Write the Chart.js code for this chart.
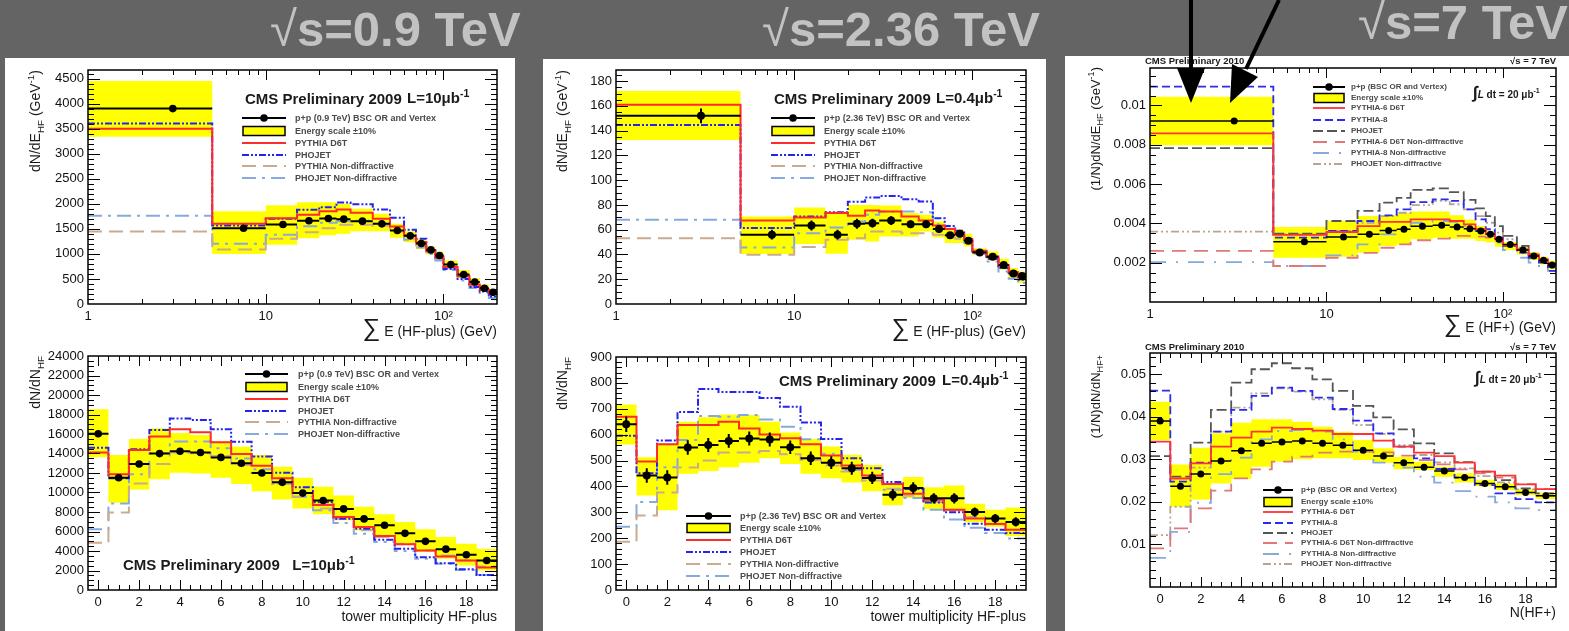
<!DOCTYPE html>
<html>
<head>
<meta charset="utf-8">
<title>CMS HF-plus energy and tower multiplicity</title>
<script src="https://cdn.jsdelivr.net/npm/chart.js@4.4.1/dist/chart.umd.min.js"></script>
<style>
  body { margin: 0; width: 1569px; height: 631px; overflow: hidden; position: relative; background: #646464; font-family: 'Liberation Sans', Arial, sans-serif; }
  .sheet { position: absolute; background: #fff; }
  .heading { position: absolute; color: #c2c2c2; font-size: 49px; font-weight: bold; white-space: nowrap; line-height: 49px; }
  .heading span { font-weight: normal; }
  .txt { position: absolute; white-space: nowrap; color: #1a1a1a; line-height: 1; }
  canvas { position: absolute; }
  svg { position: absolute; overflow: visible; }
  sub, sup { font-size: 70%; line-height: 0; }
</style>
</head>
<body>
<div class="sheet" style="left:5px;top:58px;width:510px;height:573px"></div>
<div class="sheet" style="left:543px;top:59px;width:503px;height:572px"></div>
<div class="sheet" style="left:1065px;top:56px;width:504px;height:575px"></div>
<div class="heading" style="left:270px;top:5px"><span>√</span>s=0.9 TeV</div>
<div class="heading" style="left:762px;top:5px"><span>√</span>s=2.36 TeV</div>
<div class="heading" style="left:1358px;top:-2px"><span>√</span>s=7 TeV</div>

<script>
// ---- bins and tick labels ----
const energyEdges = [1, 5, 10, 15, 20, 25, 30, 40, 50, 60, 70, 80, 90, 100, 120, 140, 160, 180, 200];
const multEdges = [-0.5, 0.5, 1.5, 2.5, 3.5, 4.5, 5.5, 6.5, 7.5, 8.5, 9.5, 10.5, 11.5, 12.5, 13.5, 14.5, 15.5, 16.5, 17.5, 18.5, 19.5];

const logXTicks = [1, 10, 100];
const logXLabels = ['1', '10', '10²'];
const multXTicks = [0, 2, 4, 6, 8, 10, 12, 14, 16, 18];
const multXLabels = ['0', '2', '4', '6', '8', '10', '12', '14', '16', '18'];

const e09YTicks = [0, 500, 1000, 1500, 2000, 2500, 3000, 3500, 4000, 4500];
const n09YTicks = [0, 2000, 4000, 6000, 8000, 10000, 12000, 14000, 16000, 18000, 20000, 22000, 24000];
const e236YTicks = [0, 20, 40, 60, 80, 100, 120, 140, 160, 180];
const n236YTicks = [0, 100, 200, 300, 400, 500, 600, 700, 800, 900];
const e7YTicks = [0.002, 0.004, 0.006, 0.008, 0.01];
const e7YLabels = ['0.002', '0.004', '0.006', '0.008', '0.01'];
const n7YTicks = [0.01, 0.02, 0.03, 0.04, 0.05];
const n7YLabels = ['0.01', '0.02', '0.03', '0.04', '0.05'];

// ---- 0.9 TeV, energy sum ----
const e09Data = [3900, 1513, 1587, 1660, 1707, 1693, 1653, 1600, 1467, 1360, 1207, 1080, 967, 787, 587, 440, 313, 233];
const e09BandHi = [4450, 1850, 1970, 2030, 2030, 2000, 1900, 1800, 1600, 1450, 1300, 1150, 1050, 870, 680, 520, 390, 300];
const e09BandLo = [3340, 1000, 1180, 1310, 1370, 1400, 1450, 1450, 1320, 1230, 1100, 990, 880, 700, 520, 370, 250, 170];
const e09Pythia = [3500, 1600, 1713, 1780, 1850, 1887, 1820, 1700, 1547, 1367, 1230, 1060, 950, 740, 560, 390, 290, 220];
const e09Phojet = [3600, 1567, 1700, 1880, 1933, 2027, 1993, 1887, 1720, 1480, 1300, 1100, 930, 700, 500, 340, 250, 150];
const e09PythiaND = [1447, 1087, 1300, 1430, 1513, 1580, 1580, 1560, 1440, 1300, 1150, 1030, 900, 720, 540, 360, 270, 180];
const e09PhojetND = [1760, 1200, 1380, 1553, 1620, 1650, 1660, 1600, 1450, 1280, 1130, 1000, 870, 680, 470, 320, 220, 120];

// ---- 0.9 TeV, tower multiplicity ----
const n09Data = [16020, 11520, 12930, 13990, 14230, 14100, 13600, 13000, 12000, 11040, 9940, 9180, 8320, 7290, 6640, 5810, 4990, 4190, 3610, 3030];
const n09BandHi = [18530, 13850, 15500, 16600, 16100, 15900, 15230, 14700, 13850, 12650, 11520, 10590, 9700, 8530, 7770, 6980, 6220, 5430, 4740, 4230];
const n09BandLo = [13610, 8940, 10310, 11350, 12030, 11960, 11520, 10860, 10140, 9280, 8350, 7770, 7150, 6120, 5600, 4680, 3890, 3200, 2510, 2000];
const n09Pythia = [14100, 11860, 14370, 15750, 16500, 16190, 15160, 13960, 12750, 11450, 9940, 8730, 7500, 6460, 5540, 4680, 4060, 3440, 3030, 2300];
const n09Phojet = [14580, 11450, 14440, 16400, 17600, 17430, 16500, 15200, 13680, 12030, 10550, 9010, 7320, 6290, 5160, 4230, 3370, 2750, 2130, 1550];
const n09PythiaND = [4850, 7940, 10930, 12930, 14100, 14030, 13750, 12820, 12030, 10860, 9560, 8350, 7320, 6120, 5430, 4740, 4060, 3540, 3030, 2410];
const n09PhojetND = [6220, 8870, 11860, 14030, 15230, 15230, 14540, 13480, 12380, 10930, 9560, 8180, 6880, 5780, 4920, 3990, 3200, 2680, 2060, 1550];

// ---- 2.36 TeV, energy sum ----
const e236Data = [152, 56, 63.4, 56, 64.8, 65.3, 67.4, 64.5, 64.5, 60.5, 55.6, 56.7, 51, 41.6, 38.2, 31.4, 24.7, 22.6];
const e236Err = [6, 4, 4, 4, 4, 3.5, 3.5, 3, 3, 3, 2.5, 2.5, 2.5, 2, 2, 2, 2, 2];
const e236BandHi = [172, 70.7, 77.9, 74.7, 80, 80, 79.5, 73.4, 72, 66.6, 61.3, 60, 56.7, 45, 42.5, 36.5, 29, 26.3];
const e236BandLo = [132.5, 40.3, 48.4, 40.6, 51.9, 50.5, 54.5, 54.5, 58.6, 53.7, 49.2, 49.2, 46.5, 39.8, 35.7, 27.7, 21, 17];
const e236Pythia = [161, 67.4, 69.9, 73.4, 71.2, 75.5, 74.7, 70.7, 67.4, 63.4, 60.5, 55.9, 52.4, 43, 38.4, 31.2, 25.8, 22];
const e236Phojet = [144.6, 61.3, 70.7, 74.2, 82.5, 86, 87.3, 84.6, 82.8, 69.3, 63.1, 59.1, 51.9, 42.5, 36.5, 29, 23.6, 19.6];
const e236PythiaND = [53.2, 39.8, 46, 51.9, 53.2, 58.6, 58.6, 57.2, 57.2, 55.9, 53.7, 52.7, 49.2, 41.1, 36.5, 29, 23.1, 19.6];
const e236PhojetND = [68, 45.7, 57.2, 61.8, 66.6, 72, 74.7, 74.7, 74.2, 64.5, 60.7, 57.2, 50.5, 40.6, 34.4, 26.3, 20.4, 16.9];

// ---- 2.36 TeV, tower multiplicity ----
const n236Data = [640, 442, 435, 550, 560, 576, 585, 581, 551, 509, 492, 470, 433, 368, 394, 354, 354, 301, 276, 263];
const n236Err = [30, 28, 28, 28, 27, 27, 27, 27, 26, 26, 25, 25, 24, 22, 22, 20, 20, 18, 18, 18];
const n236BandHi = [717, 513, 563, 650, 667, 678, 676, 650, 608, 583, 554, 522, 483, 413, 436, 397, 404, 333, 310, 319];
const n236BandLo = [562, 365, 308, 449, 460, 474, 492, 509, 487, 449, 432, 415, 381, 327, 355, 313, 308, 262, 244, 208];
const n236Pythia = [669, 496, 563, 637, 637, 650, 624, 601, 586, 563, 520, 481, 442, 409, 372, 349, 310, 276, 255, 233];
const n236Phojet = [596, 451, 577, 688, 776, 765, 765, 742, 708, 647, 583, 509, 470, 417, 390, 338, 300, 256, 233, 220];
const n236PythiaND = [186, 288, 377, 473, 500, 531, 531, 537, 524, 503, 481, 458, 423, 391, 364, 340, 308, 282, 256, 233];
const n236PhojetND = [244, 340, 474, 579, 672, 669, 676, 659, 631, 582, 526, 464, 436, 387, 355, 310, 272, 240, 220, 199];

// ---- 7 TeV, energy sum ----
const e7Data = [0.0092, 0.00307, 0.00331, 0.00344, 0.00364, 0.0037, 0.00385, 0.0039, 0.00381, 0.00373, 0.00361, 0.00344, 0.00319, 0.00293, 0.00264, 0.00234, 0.00212, 0.00188];
const e7BandHi = [0.01044, 0.00381, 0.00412, 0.00437, 0.00441, 0.00454, 0.0046, 0.0046, 0.00441, 0.0042, 0.00386, 0.00361, 0.00332, 0.00305, 0.00281, 0.00254, 0.0023, 0.00208];
const e7BandLo = [0.00797, 0.00225, 0.0023, 0.0025, 0.00285, 0.00293, 0.00319, 0.00327, 0.00322, 0.00322, 0.0031, 0.00302, 0.00281, 0.00264, 0.00242, 0.00214, 0.00192, 0.00166];
const e7Pythia6 = [0.00858, 0.00341, 0.00356, 0.00386, 0.00407, 0.00407, 0.0042, 0.0042, 0.00412, 0.00395, 0.0037, 0.00347, 0.00322, 0.00288, 0.00268, 0.00242, 0.00217, 0.00192];
const e7Pythia8 = [0.01095, 0.00327, 0.00361, 0.00412, 0.00441, 0.00471, 0.00508, 0.00522, 0.00514, 0.00471, 0.0042, 0.0037, 0.00327, 0.00285, 0.00251, 0.00225, 0.002, 0.00158];
const e7Phojet = [0.00783, 0.00347, 0.00412, 0.00463, 0.00505, 0.0053, 0.0057, 0.00578, 0.00559, 0.00519, 0.00476, 0.00437, 0.00386, 0.00336, 0.00285, 0.00242, 0.00208, 0.00183];
const e7Pythia6ND = [0.0026, 0.00183, 0.00225, 0.0025, 0.00276, 0.00293, 0.00314, 0.00322, 0.00336, 0.00336, 0.00332, 0.00327, 0.0031, 0.00288, 0.00268, 0.00237, 0.00217, 0.00188];
const e7Pythia8ND = [0.00203, 0.00183, 0.00237, 0.00293, 0.00344, 0.00366, 0.00403, 0.00412, 0.00407, 0.00386, 0.00361, 0.00336, 0.00302, 0.00264, 0.00225, 0.002, 0.00183, 0.00158];
const e7PhojetND = [0.00358, 0.00344, 0.00361, 0.00403, 0.00437, 0.00454, 0.00493, 0.00514, 0.00497, 0.00471, 0.00437, 0.00403, 0.00353, 0.00319, 0.00276, 0.00237, 0.00208, 0.00175];

// ---- 7 TeV, multiplicity ----
const n7Data = [0.039, 0.0237, 0.02655, 0.0296, 0.032, 0.03376, 0.03408, 0.03431, 0.03376, 0.0333, 0.03212, 0.03078, 0.02922, 0.02812, 0.02725, 0.02576, 0.02435, 0.02357, 0.02224, 0.02145];
const n7BandHi = [0.04357, 0.02882, 0.03275, 0.03612, 0.03863, 0.03941, 0.03941, 0.03886, 0.03769, 0.03651, 0.03455, 0.03259, 0.03063, 0.02945, 0.02827, 0.02671, 0.0252, 0.0243, 0.023, 0.0222];
const n7BandLo = [0.03455, 0.01886, 0.02059, 0.02435, 0.02537, 0.02827, 0.02945, 0.03, 0.03024, 0.03024, 0.02984, 0.02922, 0.02765, 0.02749, 0.02592, 0.02459, 0.0237, 0.0228, 0.0216, 0.0207];
const n7Pythia6 = [0.03416, 0.0255, 0.02906, 0.03298, 0.0351, 0.03651, 0.03745, 0.03714, 0.03675, 0.03596, 0.03596, 0.03439, 0.03298, 0.03157, 0.03078, 0.02922, 0.0271, 0.02616, 0.02412, 0.02302];
const n7Pythia8 = [0.04616, 0.02475, 0.02922, 0.03651, 0.04161, 0.0449, 0.04686, 0.04608, 0.04451, 0.04184, 0.0391, 0.03612, 0.03298, 0.03024, 0.02773, 0.02569, 0.02396, 0.022, 0.02067, 0.01988];
const n7Phojet = [0.03078, 0.02592, 0.03392, 0.04161, 0.04804, 0.05118, 0.05259, 0.05141, 0.04882, 0.04608, 0.04255, 0.03988, 0.03706, 0.03376, 0.03141, 0.02937, 0.0271, 0.02514, 0.02318, 0.022];
const n7Pythia6ND = [0.00906, 0.01376, 0.01847, 0.02263, 0.02553, 0.02765, 0.02945, 0.03063, 0.03157, 0.0318, 0.0318, 0.03165, 0.03086, 0.02984, 0.02882, 0.02765, 0.02671, 0.02569, 0.0242, 0.02302];
const n7Pythia8ND = [0.00686, 0.01298, 0.0198, 0.02655, 0.03039, 0.03471, 0.03667, 0.0369, 0.03651, 0.03471, 0.0318, 0.02922, 0.02804, 0.02592, 0.02451, 0.02255, 0.02122, 0.01988, 0.01847, 0.01808];
const n7PhojetND = [0.0122, 0.01886, 0.02804, 0.03651, 0.04216, 0.04553, 0.04671, 0.04592, 0.04412, 0.04161, 0.03808, 0.03596, 0.03337, 0.03102, 0.02929, 0.02788, 0.02608, 0.02459, 0.02294, 0.02145];

// ---- line styles ----
const sPythia = { color: '#ff2a2a', dash: [], width: 2 };
const sPhojet = { color: '#2424ee', dash: [7, 2, 2, 2, 2, 2], width: 2 };
const sPythiaND = { color: '#c9ab8f', dash: [14, 7], width: 2 };
const sPhojetND = { color: '#86a9de', dash: [14, 6, 3, 6], width: 2 };
const s7Pythia6 = { color: '#ff3333', dash: [], width: 1.8 };
const s7Pythia8 = { color: '#2a2af0', dash: [8, 4], width: 1.8 };
const s7Phojet = { color: '#555555', dash: [10, 4], width: 1.8 };
const s7Pythia6ND = { color: '#e07878', dash: [14, 8], width: 1.8 };
const s7Pythia8ND = { color: '#86a9de', dash: [16, 10, 2, 10], width: 1.8 };
const s7PhojetND = { color: '#b5a592', dash: [8, 3, 2, 3, 2, 3], width: 1.8 };

const FONT = "'Liberation Sans', Arial, Helvetica, sans-serif";
Chart.defaults.font.family = FONT;

// histogram as a stepped line: value i holds from edge i to edge i+1
function stepData(edges, vals) {
  const pts = vals.map((v, i) => ({ x: edges[i], y: v }));
  pts.push({ x: edges[vals.length], y: vals[vals.length - 1] });
  return pts;
}

function binCenters(edges) {
  return edges.slice(0, -1).map((e, i) => (e + edges[i + 1]) / 2);
}

// ROOT-like frame: box plus inward ticks on all four sides
const rootFrame = {
  id: 'rootFrame',
  afterDatasetsDraw(chart, args, o) {
    const { ctx, chartArea: a } = chart;
    const xs = chart.scales.x;
    const ys = chart.scales.y;
    ctx.save();
    ctx.strokeStyle = '#000';
    ctx.lineWidth = 1;
    ctx.beginPath();
    const xTick = (vals, len) => vals.forEach((v) => {
      const px = Math.round(xs.getPixelForValue(v)) + 0.5;
      if (px <= a.left + 1 || px >= a.right - 1) return;
      ctx.moveTo(px, a.bottom); ctx.lineTo(px, a.bottom - len);
      ctx.moveTo(px, a.top); ctx.lineTo(px, a.top + len);
    });
    const yTick = (vals, len) => vals.forEach((v) => {
      const py = Math.round(ys.getPixelForValue(v)) + 0.5;
      if (py <= a.top + 1 || py >= a.bottom - 1) return;
      ctx.moveTo(a.left, py); ctx.lineTo(a.left + len, py);
      ctx.moveTo(a.right, py); ctx.lineTo(a.right - len, py);
    });
    xTick(o.xMajor, 10);
    xTick(o.xMinor, 5);
    yTick(o.yMajor, 12);
    yTick(o.yMinor, 6);
    ctx.stroke();
    ctx.lineWidth = 1.5;
    ctx.strokeRect(a.left, a.top, a.right - a.left, a.bottom - a.top);
    ctx.restore();
  },
};

function linearMinors(min, max, step) {
  const out = [];
  for (let k = Math.ceil(min / step - 1e-9); k <= Math.floor(max / step + 1e-9); k++) out.push(+(k * step).toFixed(8));
  return out;
}

function buildDatasets(edges, p) {
  const c = binCenters(edges);
  const ds = [];
  ds.push({
    data: p.data.map((v, i) => ({ x: c[i], y: v })),
    showLine: false, pointRadius: p.r || 3.8, pointBackgroundColor: '#000', pointBorderWidth: 0, order: 0,
  });
  const hbar = [];
  p.data.forEach((v, i) => { hbar.push({ x: edges[i], y: v }, { x: edges[i + 1], y: v }, { x: edges[i + 1], y: null }); });
  ds.push({ data: hbar, borderColor: '#000', borderWidth: p.barWidth || 2, pointRadius: 0, spanGaps: false, order: 1 });
  if (p.err) {
    const vbar = [];
    p.data.forEach((v, i) => { vbar.push({ x: c[i], y: v - p.err[i] }, { x: c[i], y: v + p.err[i] }, { x: c[i], y: null }); });
    ds.push({ data: vbar, borderColor: '#000', borderWidth: 2, pointRadius: 0, spanGaps: false, order: 1 });
  }
  p.mc.forEach(([vals, s]) => {
    ds.push({
      data: stepData(edges, vals), stepped: true, borderColor: s.color, borderDash: s.dash,
      borderWidth: s.width, pointRadius: 0, fill: false, order: 2,
    });
  });
  ds.push({ data: stepData(edges, p.lo), stepped: true, borderColor: 'rgba(0,0,0,0)', borderWidth: 0, pointRadius: 0, fill: false, order: 9 });
  ds.push({ data: stepData(edges, p.hi), stepped: true, borderColor: 'rgba(0,0,0,0)', borderWidth: 0, pointRadius: 0, fill: '-1', backgroundColor: '#ffff00', order: 9 });
  return ds;
}

function makePanel(cfg) {
  const padL = 70, padT = 12, padR = 14, padB = 34;
  const b = cfg.box;
  const cv = document.createElement('canvas');
  cv.width = b.r - b.l + padL + padR;
  cv.height = b.b - b.t + padT + padB;
  cv.style.left = (b.l - padL) + 'px';
  cv.style.top = (b.t - padT) + 'px';
  document.body.appendChild(cv);
  const isLog = cfg.xType === 'logarithmic';
  const tickFont = { family: FONT, size: 13 };
  // eslint-disable-next-line no-new
  new Chart(cv, {
    type: 'line',
    data: { datasets: buildDatasets(cfg.edges, cfg) },
    options: {
      responsive: false,
      animation: false,
      devicePixelRatio: 1,
      layout: { padding: { left: 0, top: padT, right: padR, bottom: 0 } },
      plugins: {
        legend: { display: false },
        tooltip: { enabled: false },
        rootFrame: {
          xMajor: cfg.xTicks,
          xMinor: isLog ? [2, 3, 4, 5, 6, 7, 8, 9, 20, 30, 40, 50, 60, 70, 80, 90, 200] : linearMinors(cfg.edges[0], cfg.edges[cfg.edges.length - 1], 0.5),
          yMajor: cfg.yTicks,
          yMinor: linearMinors(cfg.yMin, cfg.yMax, cfg.yMinorStep),
        },
      },
      scales: {
        x: {
          type: cfg.xType,
          min: cfg.edges[0],
          max: cfg.edges[cfg.edges.length - 1],
          grid: { display: false, drawTicks: false },
          border: { display: false },
          afterBuildTicks: (s) => { s.ticks = cfg.xTicks.map((v) => ({ value: v })); },
          afterFit: (s) => { s.height = padB; },
          ticks: { callback: (v, i) => cfg.xLabels[i], font: tickFont, color: '#111', padding: 5, maxRotation: 0, autoSkip: false },
        },
        y: {
          type: 'linear',
          min: cfg.yMin,
          max: cfg.yMax,
          grid: { display: false, drawTicks: false },
          border: { display: false },
          afterBuildTicks: (s) => { s.ticks = cfg.yTicks.map((v) => ({ value: v })); },
          afterFit: (s) => { s.width = padL; },
          ticks: { callback: (v, i) => cfg.yLabels[i], font: tickFont, color: '#111', padding: 4, autoSkip: false },
        },
      },
    },
    plugins: [rootFrame],
  });
}

// ---- the six panels ----
makePanel({
  box: { l: 88, t: 70, r: 497, b: 304 }, edges: energyEdges, xType: 'logarithmic',
  xTicks: logXTicks, xLabels: logXLabels, yMin: 0, yMax: 4670, yTicks: e09YTicks, yLabels: e09YTicks.map(String), yMinorStep: 100,
  data: e09Data, hi: e09BandHi, lo: e09BandLo,
  mc: [[e09Pythia, sPythia], [e09Phojet, sPhojet], [e09PythiaND, sPythiaND], [e09PhojetND, sPhojetND]],
});
makePanel({
  box: { l: 88, t: 356, r: 497, b: 590 }, edges: multEdges, xType: 'linear',
  xTicks: multXTicks, xLabels: multXLabels, yMin: 0, yMax: 24000, yTicks: n09YTicks, yLabels: n09YTicks.map(String), yMinorStep: 500,
  data: n09Data, hi: n09BandHi, lo: n09BandLo,
  mc: [[n09Pythia, sPythia], [n09Phojet, sPhojet], [n09PythiaND, sPythiaND], [n09PhojetND, sPhojetND]],
});
makePanel({
  box: { l: 616, t: 70, r: 1026, b: 304 }, edges: energyEdges, xType: 'logarithmic',
  xTicks: logXTicks, xLabels: logXLabels, yMin: 0, yMax: 189, yTicks: e236YTicks, yLabels: e236YTicks.map(String), yMinorStep: 5,
  data: e236Data, err: e236Err, hi: e236BandHi, lo: e236BandLo, r: 4,
  mc: [[e236Pythia, sPythia], [e236Phojet, sPhojet], [e236PythiaND, sPythiaND], [e236PhojetND, sPhojetND]],
});
makePanel({
  box: { l: 616, t: 357, r: 1026, b: 590 }, edges: multEdges, xType: 'linear',
  xTicks: multXTicks, xLabels: multXLabels, yMin: 0, yMax: 900, yTicks: n236YTicks, yLabels: n236YTicks.map(String), yMinorStep: 20,
  data: n236Data, err: n236Err, hi: n236BandHi, lo: n236BandLo, r: 4,
  mc: [[n236Pythia, sPythia], [n236Phojet, sPhojet], [n236PythiaND, sPythiaND], [n236PhojetND, sPhojetND]],
});
makePanel({
  box: { l: 1150, t: 68, r: 1556, b: 302 }, edges: energyEdges, xType: 'logarithmic',
  xTicks: logXTicks, xLabels: logXLabels, yMin: 0, yMax: 0.0119, yTicks: e7YTicks, yLabels: e7YLabels, yMinorStep: 0.0005,
  data: e7Data, hi: e7BandHi, lo: e7BandLo, barWidth: 1.5, r: 3.5,
  mc: [[e7Pythia6, s7Pythia6], [e7Pythia8, s7Pythia8], [e7Phojet, s7Phojet], [e7Pythia6ND, s7Pythia6ND], [e7Pythia8ND, s7Pythia8ND], [e7PhojetND, s7PhojetND]],
});
makePanel({
  box: { l: 1150, t: 353, r: 1556, b: 587 }, edges: multEdges, xType: 'linear',
  xTicks: multXTicks, xLabels: multXLabels, yMin: 0, yMax: 0.055, yTicks: n7YTicks, yLabels: n7YLabels, yMinorStep: 0.002,
  data: n7Data, hi: n7BandHi, lo: n7BandLo, barWidth: 1.5, r: 3.5,
  mc: [[n7Pythia6, s7Pythia6], [n7Pythia8, s7Pythia8], [n7Phojet, s7Phojet], [n7Pythia6ND, s7Pythia6ND], [n7Pythia8ND, s7Pythia8ND], [n7PhojetND, s7PhojetND]],
});

// ---- text overlays ----
function addText(html, x, y, o = {}) {
  const d = document.createElement('div');
  d.className = 'txt';
  d.innerHTML = html;
  d.style.left = x + 'px';
  d.style.top = y + 'px';
  d.style.fontSize = (o.size || 13) + 'px';
  if (o.bold) d.style.fontWeight = 'bold';
  if (o.color) d.style.color = o.color;
  d.style.transform = o.right ? 'translate(-100%,-50%)' : 'translateY(-50%)';
  document.body.appendChild(d);
}

function addYTitle(html, x, yTop, size) {
  const d = document.createElement('div');
  d.className = 'txt';
  d.innerHTML = html;
  d.style.left = x + 'px';
  d.style.top = yTop + 'px';
  d.style.fontSize = size + 'px';
  d.style.transformOrigin = '0 0';
  d.style.transform = 'rotate(-90deg) translate(-100%,-50%)';
  document.body.appendChild(d);
}

const NS = 'http://www.w3.org/2000/svg';
function addLegend(x0, x1, xText, ys, rows, size) {
  const w = x1 - x0;
  rows.forEach((r, i) => {
    const y = ys[i];
    const svg = document.createElementNS(NS, 'svg');
    svg.setAttribute('width', w);
    svg.setAttribute('height', 12);
    svg.style.left = x0 + 'px';
    svg.style.top = (y - 6) + 'px';
    if (r.kind === 'data') {
      svg.innerHTML = `<line x1="0" y1="6" x2="${w}" y2="6" stroke="#000" stroke-width="2"/><circle cx="${w / 2}" cy="6" r="3.8" fill="#000"/>`;
    } else if (r.kind === 'band') {
      svg.innerHTML = `<rect x="1" y="1.5" width="${w - 2}" height="9" fill="#ffff00" stroke="#000" stroke-width="1.5"/>`;
    } else {
      const s = r.style;
      svg.innerHTML = `<line x1="0" y1="6" x2="${w}" y2="6" stroke="${s.color}" stroke-width="${s.width}" stroke-dasharray="${s.dash.join(' ') || 'none'}"/>`;
    }
    document.body.appendChild(svg);
    addText(r.label, xText, y, { size, bold: true, color: '#4a4a4a' });
  });
}

const legendRows = (first) => [
  { kind: 'data', label: first },
  { kind: 'band', label: 'Energy scale ±10%' },
  { style: sPythia, label: 'PYTHIA D6T' },
  { style: sPhojet, label: 'PHOJET' },
  { style: sPythiaND, label: 'PYTHIA Non-diffractive' },
  { style: sPhojetND, label: 'PHOJET Non-diffractive' },
];
const legendRows7 = [
  { kind: 'data', label: 'p+p (BSC OR and Vertex)' },
  { kind: 'band', label: 'Energy scale ±10%' },
  { style: s7Pythia6, label: 'PYTHIA-6 D6T' },
  { style: s7Pythia8, label: 'PYTHIA-8' },
  { style: s7Phojet, label: 'PHOJET' },
  { style: s7Pythia6ND, label: 'PYTHIA-6 D6T Non-diffractive' },
  { style: s7Pythia8ND, label: 'PYTHIA-8 Non-diffractive' },
  { style: s7PhojetND, label: 'PHOJET Non-diffractive' },
];

// 0.9 TeV
addText('CMS Preliminary 2009', 245, 98, { size: 15, bold: true });
addText('L=10μb<sup>-1</sup>', 407, 97, { size: 15, bold: true });
addLegend(242, 286, 295, [118, 130.5, 143, 154.5, 166, 178], legendRows('p+p (0.9 TeV) BSC OR and Vertex'), 9);
addText('<span style="font-size:25px">∑</span> E (HF-plus) (GeV)', 497, 327, { size: 14, right: true });
addYTitle('dN/dE<sub>HF</sub> (GeV<sup>-1</sup>)', 35, 70, 14);
addLegend(245, 288, 298, [374, 386.5, 399, 410.5, 422, 434], legendRows('p+p (0.9 TeV) BSC OR and Vertex'), 9);
addText('CMS Preliminary 2009&nbsp;&nbsp; L=10μb<sup>-1</sup>', 123, 564, { size: 15, bold: true });
addText('tower multiplicity HF-plus', 497, 616, { size: 14, right: true });
addYTitle('dN/dN<sub>HF</sub>', 35, 356, 14);

// 2.36 TeV
addText('CMS Preliminary 2009', 774, 98, { size: 15, bold: true });
addText('L=0.4μb<sup>-1</sup>', 936, 97, { size: 15, bold: true });
addLegend(771, 815, 824, [118, 130.5, 143, 154.5, 166, 178], legendRows('p+p (2.36 TeV) BSC OR and Vertex'), 9);
addText('<span style="font-size:25px">∑</span> E (HF-plus) (GeV)', 1026, 327, { size: 14, right: true });
addYTitle('dN/dE<sub>HF</sub> (GeV<sup>-1</sup>)', 562, 70, 14);
addText('CMS Preliminary 2009', 779, 380, { size: 15, bold: true });
addText('L=0.4μb<sup>-1</sup>', 942, 379, { size: 15, bold: true });
addLegend(686, 731, 740, [516, 528, 540, 552, 564, 576], legendRows('p+p (2.36 TeV) BSC OR and Vertex'), 9);
addText('tower multiplicity HF-plus', 1026, 616, { size: 14, right: true });
addYTitle('dN/dN<sub>HF</sub>', 562, 357, 14);

// 7 TeV
addText('CMS Preliminary 2010', 1145, 61, { size: 9.5, bold: true });
addText('√s = 7 TeV', 1556, 61, { size: 9.5, bold: true, right: true });
addText('<span style="font-size:17px">∫</span><i>L</i> dt = 20 μb<sup>-1</sup>', 1473, 92, { size: 10, bold: true });
addLegend(1313, 1345, 1351, [86.7, 97.7, 108.3, 120, 131, 141.7, 153.3, 164.3], legendRows7, 8);
addText('<span style="font-size:25px">∑</span> E (HF+) (GeV)', 1556, 323, { size: 14, right: true });
addYTitle('(1/N)dN/dE<sub>HF</sub> (GeV<sup>-1</sup>)', 1095, 67, 13);
addText('CMS Preliminary 2010', 1145, 347, { size: 9.5, bold: true });
addText('√s = 7 TeV', 1556, 347, { size: 9.5, bold: true, right: true });
addText('<span style="font-size:17px">∫</span><i>L</i> dt = 20 μb<sup>-1</sup>', 1475, 377, { size: 10, bold: true });
addLegend(1263, 1293, 1301, [490, 501.7, 512.3, 522.7, 532.7, 543.3, 554, 564.3], legendRows7, 8);
addText('N(HF+)', 1556, 612, { size: 14, right: true });
addYTitle('(1/N)dN/dN<sub>HF+</sub>', 1095, 355, 13);

// annotation arrows pointing at the first 7 TeV bin
const arrows = document.createElementNS(NS, 'svg');
arrows.setAttribute('width', 1569);
arrows.setAttribute('height', 631);
arrows.style.left = '0px';
arrows.style.top = '0px';
arrows.innerHTML = `
  <line x1="1191" y1="0" x2="1191" y2="72" stroke="#000" stroke-width="4"/>
  <polygon points="1177,68 1205,68 1191,103" fill="#000"/>
  <line x1="1279" y1="0" x2="1246" y2="69" stroke="#000" stroke-width="4"/>
  <polygon points="1232,64 1258,77 1230,103" fill="#000"/>`;
document.body.appendChild(arrows);
</script>
</body>
</html>
